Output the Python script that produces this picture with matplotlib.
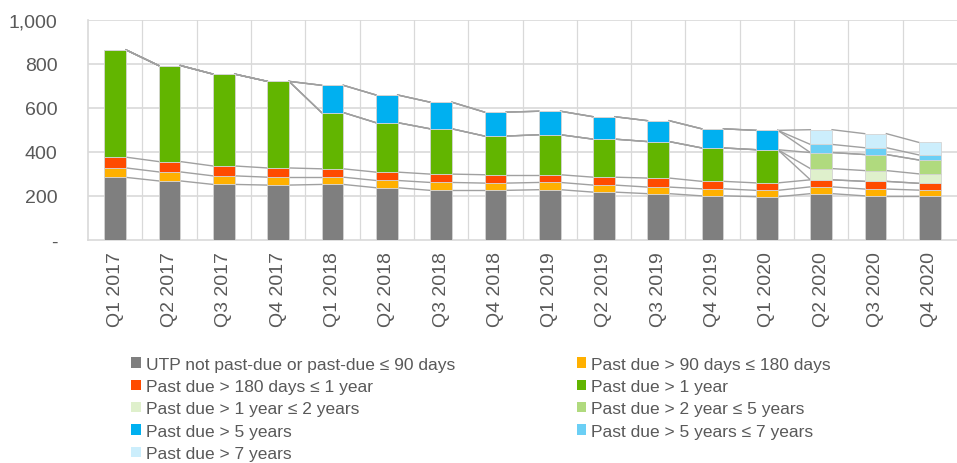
import numpy as np
import matplotlib
matplotlib.use("Agg")
import matplotlib.pyplot as plt
from matplotlib.patches import Patch

# ----------------------------------------------------------------------------------
# Section 0: Data
# ----------------------------------------------------------------------------------

quarters = ['Q1 2017', 'Q2 2017', 'Q3 2017', 'Q4 2017',
            'Q1 2018', 'Q2 2018', 'Q3 2018', 'Q4 2018',
            'Q1 2019', 'Q2 2019', 'Q3 2019', 'Q4 2019',
            'Q1 2020', 'Q2 2020', 'Q3 2020', 'Q4 2020']

utp_not_past_due = [284, 268, 252, 249, 252, 237, 225, 225, 228, 217, 210, 200, 196, 210, 200, 200]
past_due_90_180d = [43, 41, 39, 36, 33, 33, 36, 33, 33, 32, 30, 32, 29, 31, 31, 26]
past_due_180d_1y = [49, 47, 45, 42, 38, 38, 38, 38, 35, 36, 41, 34, 34, 32, 35, 31]
past_due_1y = [488, 437, 418, 394, 256, 225, 206, 176, 182, 173, 166, 152, 151, 0, 0, 0]
past_due_1y_2y = [0, 0, 0, 0, 0, 0, 0, 0, 0, 0, 0, 0, 0, 51, 49, 43]
past_due_2y_5y = [0, 0, 0, 0, 0, 0, 0, 0, 0, 0, 0, 0, 0, 73, 73, 63]
past_due_5y = [0, 0, 0, 0, 124, 126, 121, 109, 107, 102, 95, 87, 88, 0, 0, 0]
past_due_5y_7y = [0, 0, 0, 0, 0, 0, 0, 0, 0, 0, 0, 0, 0, 37, 31, 23]
past_due_7y = [0, 0, 0, 0, 0, 0, 0, 0, 0, 0, 0, 0, 0, 67, 64, 57]

series_labels = ['UTP not past-due or past-due \u2264 90 days',
                 'Past due > 90 days \u2264 180 days',
                 'Past due > 180 days \u2264 1 year',
                 'Past due > 1 year',
                 'Past due > 1 year \u2264 2 years',
                 'Past due > 2 year \u2264 5 years',
                 'Past due > 5 years',
                 'Past due > 5 years \u2264 7 years',
                 'Past due > 7 years']

series_colors = ['#7F7F7F', '#FFB000', '#FF4B00', '#62B500', '#DFF0CC',
                 '#B0DA7E', '#00B0F0', '#6BCFF5', '#CCEEFC']

y_ticks = [0, 200, 400, 600, 800, 1000]
y_tick_labels = ['-', '200', '400', '600', '800', '1,000']

# ----------------------------------------------------------------------------------
# Section 1: Plot
# ----------------------------------------------------------------------------------

plt.rcParams['font.family'] = ['Liberation Sans', 'DejaVu Sans']
TEXT_COLOR = '#595959'
GRID_COLOR = '#D9D9D9'

all_series = [utp_not_past_due, past_due_90_180d, past_due_180d_1y, past_due_1y,
              past_due_1y_2y, past_due_2y_5y, past_due_5y, past_due_5y_7y, past_due_7y]

fig = plt.figure(figsize=(9.57, 4.64), dpi=100)
ax = fig.add_axes([0.092, 0.481, 0.908, 0.4737])

x = np.arange(len(quarters))
bar_width = 0.40
bottom = np.zeros(len(quarters))
handles = []

for values, label, color in zip(all_series, series_labels, series_colors):
    values = np.array(values, dtype=float)
    ax.bar(x, values, bar_width, bottom=bottom, color=color,
           edgecolor='#D4D4D4', linewidth=0.6, zorder=3)
    top = bottom + values
    # Series lines between the bar edges (like Excel)
    for j in range(len(quarters) - 1):
        ax.plot([x[j] + bar_width / 2, x[j + 1] - bar_width / 2], [top[j], top[j + 1]],
                color='#A0A0A0', linewidth=1.0, zorder=2)
    handles.append(Patch(facecolor=color, edgecolor='none', label=label))
    bottom = top

ax.set_xlim(-0.5, len(quarters) - 0.5)
ax.set_ylim(0, 1000)
ax.set_yticks(y_ticks)
ax.set_yticklabels(y_tick_labels)
ax.set_xticks(x)
ax.set_xticklabels(quarters, rotation=90)
ax.tick_params(axis='both', length=0, labelsize=14, colors=TEXT_COLOR)
ax.tick_params(axis='y', pad=22)
ax.tick_params(axis='x', pad=8)

# Grid: horizontal at the ticks, vertical at category boundaries
for yv in y_ticks[1:]:
    ax.axhline(yv, color=GRID_COLOR, linewidth=1.2, zorder=1)
for xv in x[:-1] + 0.5:
    ax.axvline(xv, color=GRID_COLOR, linewidth=0.9, zorder=1)

for side in ['top', 'right']:
    ax.spines[side].set_visible(False)
for side in ['left', 'bottom']:
    ax.spines[side].set_color(GRID_COLOR)
    ax.spines[side].set_linewidth(1.2)

# Legend fills row by row in the reference, matplotlib fills column by column
order = [0, 2, 4, 6, 8, 1, 3, 5, 7]
leg = fig.legend([handles[i] for i in order], [series_labels[i] for i in order],
                 loc='upper left', bbox_to_anchor=(0.137, 0.229), ncol=2,
                 frameon=False, fontsize=12.5, handlelength=0.55, handleheight=0.55,
                 handletextpad=0.3, labelspacing=0.42, columnspacing=7.0,
                 borderaxespad=0, borderpad=0)
for t in leg.get_texts():
    t.set_color(TEXT_COLOR)

fig.savefig('out.png', dpi=100)
